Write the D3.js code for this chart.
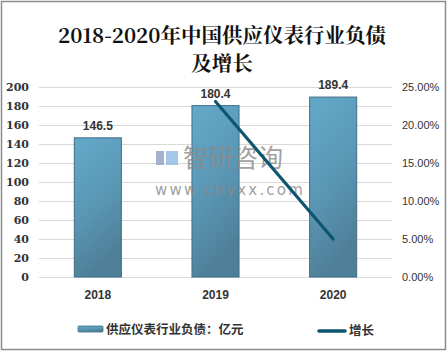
<!DOCTYPE html>
<html><head><meta charset="utf-8">
<script src="https://cdn.jsdelivr.net/npm/d3@7"></script>
<style>body{margin:0;background:#fff}svg{display:block}</style>
</head><body>
<svg id="c" width="447" height="351"></svg>
<script>
const categories = ["2018","2019","2020"];
const debt = [146.5, 180.4, 189.4];
const growth = [null, 0.231, 0.0499];
const leftTicks = [0,20,40,60,80,100,120,140,160,180,200];
const rightTicks = [0,0.05,0.10,0.15,0.20,0.25];
const titleLines = ["2018-2020年中国供应仪表行业负债","及增长"];
const legendLabels = ["供应仪表行业负债：亿元","增长"];

const svg = d3.select("#c");
const W=447,H=351;
svg.append("rect").attr("x",1.5).attr("y",1.5).attr("width",W-3).attr("height",H-3).attr("fill","#fff").attr("stroke","#8c8c8c").attr("stroke-width",1.5);

const defs = svg.append("defs");
const g1 = defs.append("linearGradient").attr("id","bg").attr("x1","0").attr("y1","0").attr("x2","0.3").attr("y2","1");
g1.append("stop").attr("offset","0").attr("stop-color","#64a9ca");
g1.append("stop").attr("offset","0.55").attr("stop-color","#5a97b5");
g1.append("stop").attr("offset","1").attr("stop-color","#4f7f98");

const x = d3.scaleBand().domain(categories).range([39,392]).paddingInner(0.6).paddingOuter(0.3);
const y = d3.scaleLinear().domain([0,200]).range([277,87]);
const y2 = d3.scaleLinear().domain([0,0.25]).range([277,87]);

// title
svg.append("g").selectAll("text").data(titleLines).join("text")
  .attr("x",222).attr("y",(d,i)=>43+i*28).attr("text-anchor","middle")
  .attr("font-family","'Noto Serif CJK SC','Noto Sans CJK SC',serif").attr("font-size",20.5).attr("font-weight","bold").attr("fill","#111").text(d=>d);

// grid
svg.append("g").selectAll("line").data(leftTicks).join("line")
  .attr("x1",39).attr("x2",392).attr("y1",d=>Math.round(y(d))+0.5).attr("y2",d=>Math.round(y(d))+0.5)
  .attr("stroke","#d9d9d9").attr("stroke-width",1);

// left axis
const la = svg.append("g").attr("transform","translate(39,0)").call(d3.axisLeft(y).tickValues(leftTicks).tickSize(0).tickPadding(10));
la.select(".domain").remove();
la.selectAll("text").attr("font-family","'DejaVu Serif','Liberation Serif',serif").attr("font-weight","bold").attr("font-size",11).attr("fill","#333");

// right axis
const ra = svg.append("g").attr("transform","translate(392,0)").call(d3.axisRight(y2).tickValues(rightTicks).tickSize(0).tickPadding(10).tickFormat(d3.format(".2%")));
ra.select(".domain").remove();
ra.selectAll("text").attr("font-family","'Liberation Sans',Arial,sans-serif").attr("font-size",11).attr("fill","#333");

// bars
svg.append("g").selectAll("rect").data(debt).join("rect")
  .attr("x",(d,i)=>x(categories[i])).attr("width",x.bandwidth())
  .attr("y",d=>y(d)).attr("height",d=>y(0)-y(d))
  .attr("fill","url(#bg)").attr("stroke","#3f6f86").attr("stroke-width",1);

// watermark (over bars)
const wm = svg.append("g").attr("opacity",0.8);
wm.append("rect").attr("x",156).attr("y",151).attr("width",8).attr("height",14).attr("fill","#8fa0c4");
wm.append("rect").attr("x",166).attr("y",151).attr("width",12).attr("height",14).attr("fill","#8fb8e0");
wm.append("text").attr("x",183).attr("y",167).attr("font-family","'Noto Sans CJK SC',sans-serif").attr("font-size",25).attr("fill","#8a8a8a").text("智研咨询");
wm.append("text").attr("x",155).attr("y",195).attr("font-family","'DejaVu Sans',sans-serif").attr("font-size",15).attr("letter-spacing",2.2).attr("fill","#8a8a8a").text("www.chyxx.com");

// bar labels
svg.append("g").selectAll("text").data(debt).join("text")
  .attr("x",(d,i)=>x(categories[i])+x.bandwidth()/2).attr("y",d=>y(d)-8)
  .attr("text-anchor","middle").attr("font-family","'Liberation Sans',Arial,sans-serif").attr("font-weight","bold").attr("font-size",12).attr("fill","#333")
  .text(d=>d.toFixed(1));

// line
const pts = growth.map((v,i)=>({v,c:categories[i]})).filter(d=>d.v!==null);
svg.append("path").datum(pts)
  .attr("d",d3.line().x(d=>x(d.c)+x.bandwidth()/2).y(d=>y2(d.v)))
  .attr("fill","none").attr("stroke","#0c5670").attr("stroke-width",3.2).attr("stroke-linecap","round");

// x labels
svg.append("g").selectAll("text").data(categories).join("text")
  .attr("x",d=>x(d)+x.bandwidth()/2).attr("y",299).attr("text-anchor","middle")
  .attr("font-family","'Liberation Sans',Arial,sans-serif").attr("font-weight","bold").attr("font-size",12).attr("fill","#333").text(d=>d);

// legend
const lg = svg.append("g");
lg.append("rect").attr("x",78).attr("y",326).attr("width",25).attr("height",6).attr("rx",1).attr("fill","url(#bg)").attr("stroke","#3f6f86").attr("stroke-width",0.8);
lg.append("text").attr("x",106).attr("y",334).attr("font-family","'Noto Sans CJK SC',sans-serif").attr("font-weight","bold").attr("font-size",12.5).attr("fill","#333").text(legendLabels[0]);
lg.append("line").attr("x1",319).attr("x2",345).attr("y1",331).attr("y2",331).attr("stroke","#0c5670").attr("stroke-width",3.5).attr("stroke-linecap","round");
lg.append("text").attr("x",349).attr("y",335).attr("font-family","'Noto Sans CJK SC',sans-serif").attr("font-weight","bold").attr("font-size",12.5).attr("fill","#333").text(legendLabels[1]);
</script>
</body></html>
